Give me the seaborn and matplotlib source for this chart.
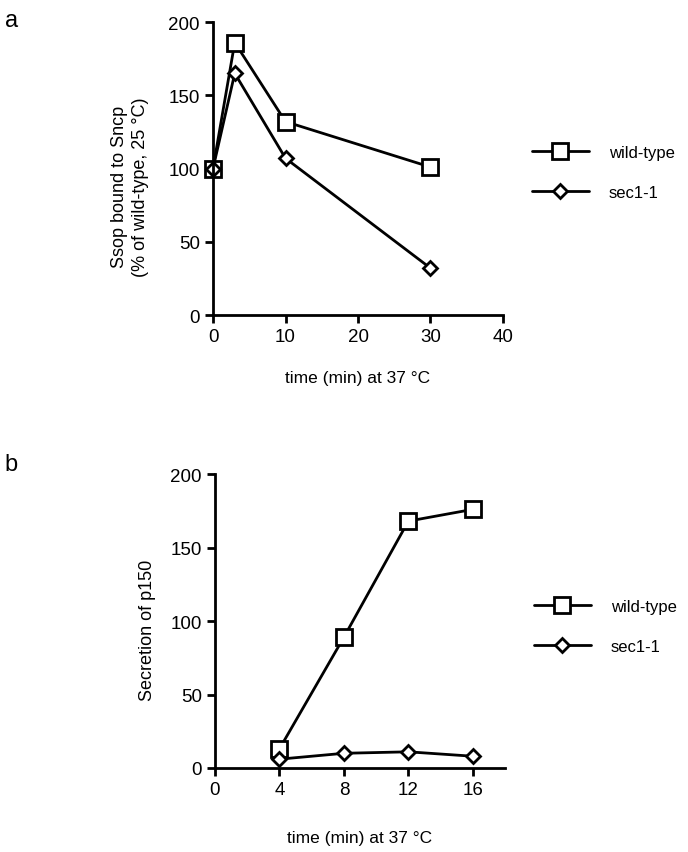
import matplotlib
matplotlib.use("Agg")
import matplotlib.pyplot as plt
import seaborn as sns
import pandas as pd

sns.set_style("ticks")
plt.rcParams['font.family'] = ['Liberation Sans', 'DejaVu Sans']
plt.rcParams['text.color'] = 'black'
plt.rcParams['axes.labelcolor'] = 'black'
plt.rcParams['xtick.color'] = 'black'
plt.rcParams['ytick.color'] = 'black'

series = ["wild-type", "sec1-1"]

# panel a
a_time = [0, 3, 10, 30]
a_wild = [100, 186, 132, 101]
a_sec = [100, 165, 107, 32]

# panel b
b_time = [4, 8, 12, 16]
b_wild = [13, 89, 168, 176]
b_sec = [6, 10, 11, 8]

def long_df(t, w, s):
    return pd.DataFrame({
        "time": list(t) + list(t),
        "value": list(w) + list(s),
        "strain": [series[0]] * len(t) + [series[1]] * len(t),
    })

df_a = long_df(a_time, a_wild, a_sec)
df_b = long_df(b_time, b_wild, b_sec)

fig = plt.figure(figsize=(6.88, 8.53), dpi=100)
ax_a = fig.add_axes([0.3096, 0.6295, 0.4215, 0.3435])
ax_b = fig.add_axes([0.3125, 0.0985, 0.4215, 0.3445])

markers = {"wild-type": "s", "sec1-1": "D"}
palette = {"wild-type": "black", "sec1-1": "black"}
msizes = {"wild-type": 11, "sec1-1": 7.5}

def draw(ax, df, legend_y, xpad):
    sns.lineplot(data=df, x="time", y="value", hue="strain", style="strain",
                 markers=markers, dashes=False, palette=palette, ax=ax,
                 linewidth=2, markersize=10, markerfacecolor="white",
                 markeredgecolor="black", markeredgewidth=2,
                 hue_order=series, style_order=series)
    for line, s in zip(ax.get_lines()[:2], series):
        line.set_markersize(msizes[s])
        line.set_clip_on(False)
    for sp in ["top", "right"]:
        ax.spines[sp].set_visible(False)
    for sp in ["left", "bottom"]:
        ax.spines[sp].set_linewidth(2)
        ax.spines[sp].set_color("black")
    ax.tick_params(width=2, length=6, labelsize=13.5, colors="black", direction="out")
    ax.set_xlabel("time (min) at 37 °C", fontsize=12.5, labelpad=xpad)
    handles, labels = ax.get_legend_handles_labels()
    for h, s in zip(handles, labels):
        h.set_markersize(msizes.get(s, 10))
        h.set_markerfacecolor("white")
        h.set_markeredgecolor("black")
        h.set_markeredgewidth(2)
        h.set_linewidth(2)
    ax.legend(handles, labels, loc="center left", bbox_to_anchor=(1.1, legend_y),
              frameon=False, fontsize=12, handlelength=3.4, labelspacing=1.5,
              handletextpad=1.2, borderpad=0, borderaxespad=0)

draw(ax_a, df_a, 0.488, 18)
ax_a.set_xlim(0, 40)
ax_a.set_ylim(0, 200)
ax_a.set_xticks([0, 10, 20, 30, 40])
ax_a.set_yticks([0, 50, 100, 150, 200])
ax_a.set_ylabel("Ssop bound to Sncp\n(% of wild-type, 25 °C)", fontsize=13,
                linespacing=1.3)
ax_a.yaxis.set_label_coords(-0.222, 0.44)

draw(ax_b, df_b, 0.483, 23)
ax_b.set_xlim(0, 18)
ax_b.set_ylim(0, 200)
ax_b.set_xticks([0, 4, 8, 12, 16])
ax_b.set_yticks([0, 50, 100, 150, 200])
ax_b.set_ylabel("Secretion of p150", fontsize=13)
ax_b.yaxis.set_label_coords(-0.205, 0.473)

fig.text(0.007, 0.988, "a", fontsize=17, va="top", ha="left")
fig.text(0.007, 0.468, "b", fontsize=17, va="top", ha="left")

fig.savefig("out.png", dpi=100, facecolor="white")
